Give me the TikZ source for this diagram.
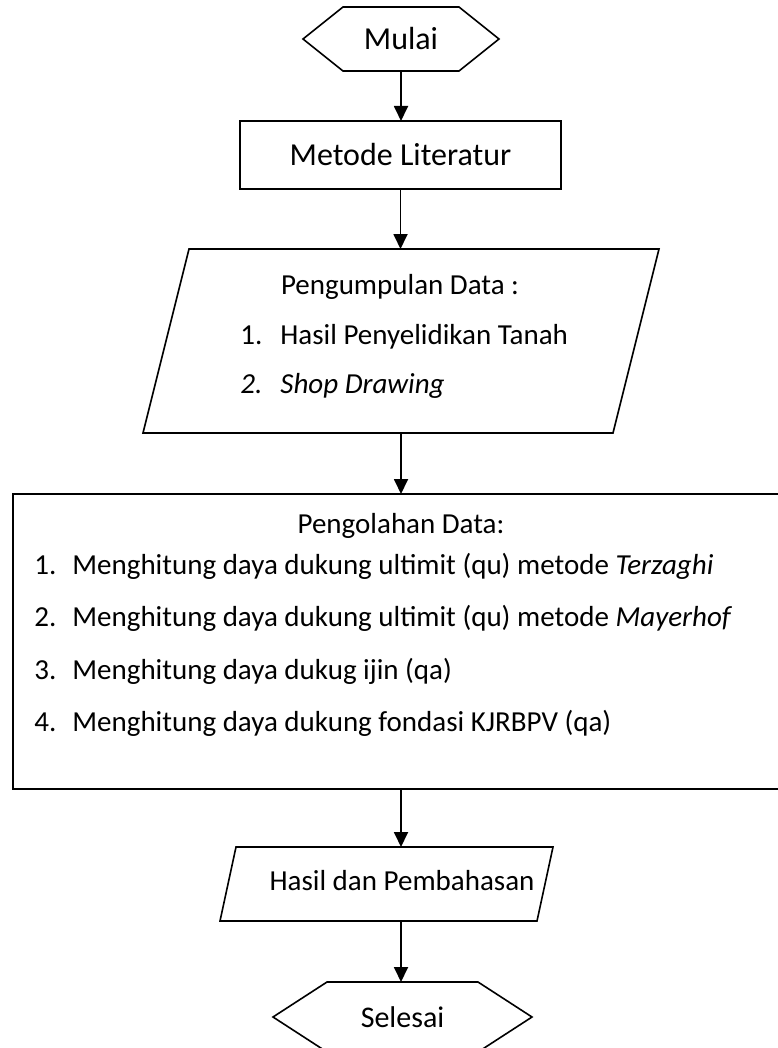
\documentclass[tikz,border=0pt]{standalone}
\usepackage{fontspec}
\setmainfont{Carlito}
\usetikzlibrary{arrows.meta,positioning}

\begin{document}
\begin{tikzpicture}[
        x=0.5pt, y=-0.5pt,
        font=\fontsize{14.5}{17}\selectfont,
        big/.style={font=\fontsize{16}{19}\selectfont},
        shape box/.style={rectangle, inner sep=0pt, outer sep=0pt},
        proc/.style={shape box, draw, line width=0.8pt},
        outline/.style={line width=0.8pt, line join=miter},
        txt/.style={inner sep=0pt, anchor=base west},
        arrow/.style={-{Triangle[length=7.5pt, width=7pt]}, line width=0.9pt},
    ]
        \useasboundingbox (0,0) rectangle (777,1048);

        % shapes
        \node[shape box, big, minimum width=98pt, minimum height=32pt] (mulai) at (401,39) {Mulai};
        \node[proc, big, minimum width=160.5pt, minimum height=34pt] (metode) at (400.5,155) {Metode Literatur};
        \node[shape box, minimum width=258pt, minimum height=92pt] (kumpul) at (401,341) {};
        \node[proc, minimum width=388pt, minimum height=147.5pt] (olah) at (401,641.5) {};
        \node[shape box, minimum width=166.5pt, minimum height=37pt] (hasil) at (386.5,884) {};
        \node[shape box, font=\fontsize{15}{18}\selectfont, minimum width=129.5pt, minimum height=35pt] (selesai) at (402.5,1017) {Selesai};

        % outlines
        \draw[outline] ([xshift=20pt]mulai.north west) -- ([xshift=-20pt]mulai.north east)
            -- (mulai.east) -- ([xshift=-20pt]mulai.south east)
            -- ([xshift=20pt]mulai.south west) -- (mulai.west) -- cycle;
        \draw[outline] ([xshift=23pt]kumpul.north west) -- (kumpul.north east)
            -- ([xshift=-23pt]kumpul.south east) -- (kumpul.south west) -- cycle;
        \draw[outline] ([xshift=8pt]hasil.north west) -- (hasil.north east)
            -- ([xshift=-8pt]hasil.south east) -- (hasil.south west) -- cycle;
        \draw[outline] ([xshift=27pt]selesai.north west) -- ([xshift=-27pt]selesai.north east)
            -- (selesai.east) -- ([xshift=-27pt]selesai.south east)
            -- ([xshift=27pt]selesai.south west) -- (selesai.west) -- cycle;

        % texts
        \node[inner sep=0pt, anchor=base] (kumpul-h) at (400,294) {Pengumpulan Data :};
        \node[txt] (kumpul-n1) at (240,344) {1.};
        \node[txt] (kumpul-t1) at (280,344) {Hasil Penyelidikan Tanah};
        \node[txt] (kumpul-n2) at (240,393) {\itshape 2.};
        \node[txt] (kumpul-t2) at (280,393) {\itshape Shop Drawing};

        \node[inner sep=0pt, anchor=base] (olah-h) at (401,533) {Pengolahan Data:};
        \node[txt] (olah-n1) at (34,574) {1.};
        \node[txt] (olah-t1) at (72,574) {Menghitung daya dukung ultimit (qu) metode \textit{Terzaghi}};
        \node[txt] (olah-n2) at (34,626) {2.};
        \node[txt] (olah-t2) at (72,626) {Menghitung daya dukung ultimit (qu) metode \textit{Mayerhof}};
        \node[txt] (olah-n3) at (34,679) {3.};
        \node[txt] (olah-t3) at (72,679) {Menghitung daya dukug ijin (qa)};
        \node[txt] (olah-n4) at (34,731) {4.};
        \node[txt] (olah-t4) at (72,731) {Menghitung daya dukung fondasi KJRBPV (qa)};

        \node[inner sep=0pt, anchor=base] (hasil-t) at (402,890) {Hasil dan Pembahasan};

        % arrows
        \draw[arrow] (mulai.south) -- (mulai.south |- metode.north);
        \draw[arrow] (metode.south) -- (metode.south |- kumpul.north);
        \draw[arrow] (kumpul.south) -- (kumpul.south |- olah.north);
        \draw[arrow] (olah.south) -- (olah.south |- hasil.north);
        \draw[arrow] (olah.south |- hasil.south) -- (olah.south |- selesai.north);
    \end{tikzpicture}
\end{document}
